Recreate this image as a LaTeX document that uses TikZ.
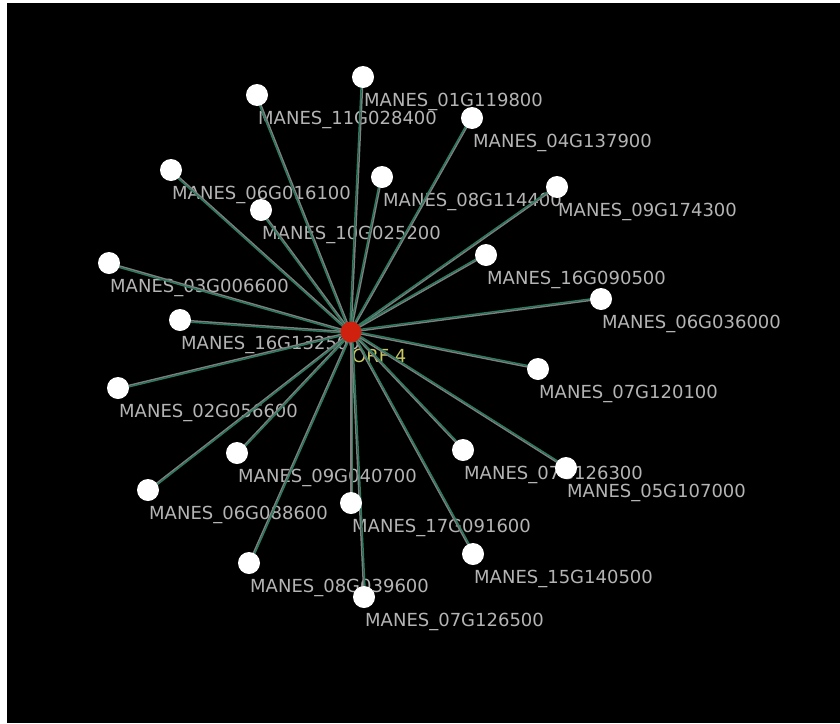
\documentclass[tikz,border=0pt]{standalone}
\usepackage{fontspec}
\setmainfont{DejaVu Sans}
\usetikzlibrary{calc}
\definecolor{lbl}{HTML}{B4B4B4}
\definecolor{edgegray}{HTML}{7E7E7E}
\definecolor{edgegreen}{HTML}{2E7A5E}
\definecolor{orfred}{HTML}{D0200E}
\definecolor{orfyellow}{HTML}{C8C864}
\begin{document}
\begin{tikzpicture}[x=1pt,y=-1pt,
  wnode/.style={circle,fill=white,draw=none,minimum size=22pt,inner sep=0pt},
  rnode/.style={circle,fill=orfred,draw=none,minimum size=21pt,inner sep=0pt},
  lbltext/.style={anchor=base west,inner sep=0pt,text=lbl,font=\fontsize{18}{20}\selectfont},
  orftext/.style={anchor=base west,inner sep=0pt,text=orfyellow,font=\fontsize{18}{20}\selectfont},
  grayedge/.style={draw=edgegray,line width=1.5pt},
  greenedge/.style={draw=edgegreen,line width=1.5pt}]
\useasboundingbox (0,0) rectangle (840,723);
\fill[white] (0,0) rectangle (840,723);
\fill[black] (7,3) rectangle (840,723);
% labels
\foreach \n/\x/\y/\t in {
  n01/363/77/MANES\_01G119800,
  n11/257/95/MANES\_11G028400,
  n04/472/118/MANES\_04G137900,
  n06a/171/170/MANES\_06G016100,
  n08a/382/177/MANES\_08G114400,
  n09a/557/187/MANES\_09G174300,
  n10/261/210/MANES\_10G025200,
  n16a/486/255/MANES\_16G090500,
  n03/109/263/MANES\_03G006600,
  n06b/601/299/MANES\_06G036000,
  n16b/180/320/MANES\_16G132500,
  n07a/538/369/MANES\_07G120100,
  n02/118/388/MANES\_02G056600,
  n07b/463/450/MANES\_07G126300,
  n05/566/468/MANES\_05G107000,
  n09b/237/453/MANES\_09G040700,
  n06c/148/490/MANES\_06G088600,
  n17/351/503/MANES\_17G091600,
  n15/473/554/MANES\_15G140500,
  n08b/249/563/MANES\_08G039600,
  n07c/364/597/MANES\_07G126500}
{
  \node[lbltext] (l\n) at (\x+1,\y+29.6) {\t};
  \coordinate (p\n) at (\x,\y);
}
\node[orftext] (lc) at (352,362.6) {ORF 4};
% hub position
\coordinate (pc) at (351,332);
% edges
\foreach \n in {n01,n11,n04,n06a,n08a,n09a,n10,n16a,n03,n06b,n16b,n07a,n02,n07b,n05,n09b,n06c,n17,n15,n08b,n07c}
{
  \draw[grayedge] (pc) -- (p\n);
  \draw[greenedge] ($(pc)!1.4pt!90:(p\n)$) -- ($(p\n)!1.4pt!-90:(pc)$);
}
% nodes
\foreach \n in {n01,n11,n04,n06a,n08a,n09a,n10,n16a,n03,n06b,n16b,n07a,n02,n07b,n05,n09b,n06c,n17,n15,n08b,n07c}
{
  \node[wnode] (\n) at (p\n) {};
}
\node[rnode] (c) at (pc) {};
\end{tikzpicture}
\end{document}
